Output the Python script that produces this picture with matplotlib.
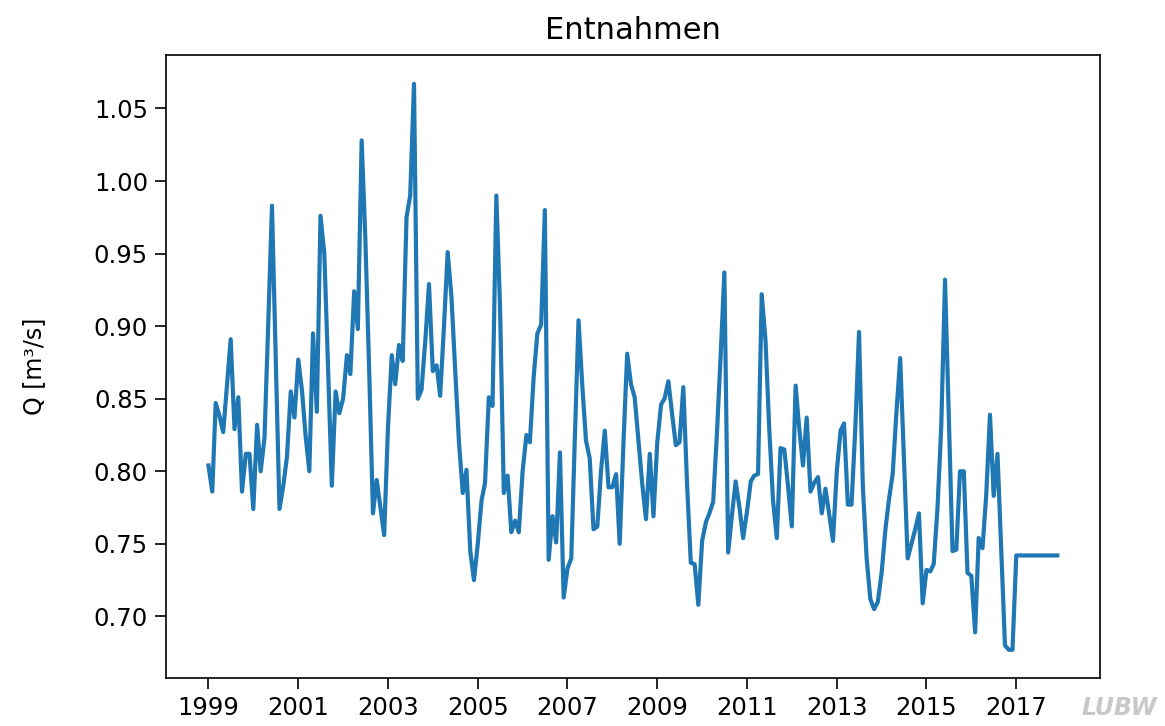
import numpy as np
import pandas as pd
import matplotlib
matplotlib.use('Agg')
import matplotlib.pyplot as plt
import matplotlib.dates as mdates

# monthly values, Jan 1999 - Dec 2017
q_1999 = [0.804, 0.786, 0.847, 0.838, 0.827, 0.860, 0.891, 0.829, 0.851, 0.786, 0.812, 0.812]
q_2000 = [0.774, 0.832, 0.800, 0.823, 0.900, 0.983, 0.880, 0.774, 0.790, 0.810, 0.855, 0.837]
q_2001 = [0.877, 0.855, 0.825, 0.800, 0.895, 0.841, 0.976, 0.950, 0.870, 0.790, 0.855, 0.840]
q_2002 = [0.850, 0.880, 0.867, 0.924, 0.898, 1.028, 0.960, 0.870, 0.771, 0.794, 0.775, 0.756]
q_2003 = [0.830, 0.880, 0.860, 0.887, 0.876, 0.975, 0.990, 1.067, 0.850, 0.856, 0.890, 0.929]
q_2004 = [0.869, 0.873, 0.852, 0.900, 0.951, 0.920, 0.870, 0.820, 0.785, 0.801, 0.745, 0.725]
q_2005 = [0.750, 0.780, 0.792, 0.851, 0.845, 0.990, 0.914, 0.785, 0.797, 0.758, 0.766, 0.758]
q_2006 = [0.800, 0.825, 0.820, 0.865, 0.895, 0.901, 0.980, 0.739, 0.769, 0.751, 0.813, 0.713]
q_2007 = [0.733, 0.740, 0.820, 0.904, 0.860, 0.821, 0.809, 0.760, 0.762, 0.800, 0.828, 0.789]
q_2008 = [0.789, 0.798, 0.750, 0.820, 0.881, 0.860, 0.851, 0.821, 0.791, 0.767, 0.812, 0.769]
q_2009 = [0.820, 0.846, 0.850, 0.862, 0.840, 0.818, 0.820, 0.858, 0.790, 0.737, 0.736, 0.708]
q_2010 = [0.752, 0.765, 0.771, 0.779, 0.825, 0.880, 0.937, 0.744, 0.770, 0.793, 0.775, 0.754]
q_2011 = [0.772, 0.793, 0.797, 0.798, 0.922, 0.890, 0.830, 0.780, 0.754, 0.816, 0.815, 0.790]
q_2012 = [0.762, 0.859, 0.830, 0.804, 0.837, 0.786, 0.792, 0.796, 0.771, 0.788, 0.770, 0.752]
q_2013 = [0.800, 0.828, 0.833, 0.777, 0.777, 0.830, 0.896, 0.790, 0.740, 0.712, 0.705, 0.710]
q_2014 = [0.730, 0.760, 0.780, 0.798, 0.840, 0.878, 0.810, 0.740, 0.750, 0.760, 0.771, 0.709]
q_2015 = [0.732, 0.731, 0.736, 0.775, 0.830, 0.932, 0.840, 0.745, 0.746, 0.800, 0.800, 0.730]
q_2016 = [0.728, 0.689, 0.754, 0.747, 0.783, 0.839, 0.783, 0.812, 0.745, 0.680, 0.677, 0.677]
q_2017 = [0.742, 0.742, 0.742, 0.742, 0.742, 0.742, 0.742, 0.742, 0.742, 0.742, 0.742, 0.742]

values = (q_1999 + q_2000 + q_2001 + q_2002 + q_2003 + q_2004 + q_2005 + q_2006 + q_2007
          + q_2008 + q_2009 + q_2010 + q_2011 + q_2012 + q_2013 + q_2014 + q_2015
          + q_2016 + q_2017)
dates = pd.date_range('1999-01-01', periods=len(values), freq='MS')

tick_years = ['1999', '2001', '2003', '2005', '2007', '2009', '2011', '2013', '2015', '2017']
y_ticks = [0.70, 0.75, 0.80, 0.85, 0.90, 0.95, 1.00, 1.05]

plt.rcParams['font.family'] = ['DejaVu Sans']

fig = plt.figure(figsize=(11.65, 7.26), dpi=100)
ax = fig.add_axes((0.1425, 0.066, 0.8015, 0.8576))

ax.plot(dates, values, color='#1f77b4', linewidth=3)

ax.set_title('Entnahmen', fontsize=22, pad=12)
ax.set_ylabel('Q [m³/s]', fontsize=17, labelpad=34)

ax.set_xticks(pd.to_datetime(tick_years))
ax.xaxis.set_major_formatter(mdates.DateFormatter('%Y'))
ax.set_yticks(y_ticks)
ax.tick_params(labelsize=17.5, length=8, width=1.2, pad=5)
for s in ax.spines.values():
	s.set_linewidth(1.2)

# watermark
fig.text(0.993, 0.008, 'LUBW', color='#c8c8c8', fontsize=17, fontweight='bold',
         style='italic', ha='right', va='bottom')

fig.savefig('out.png', dpi=100)
